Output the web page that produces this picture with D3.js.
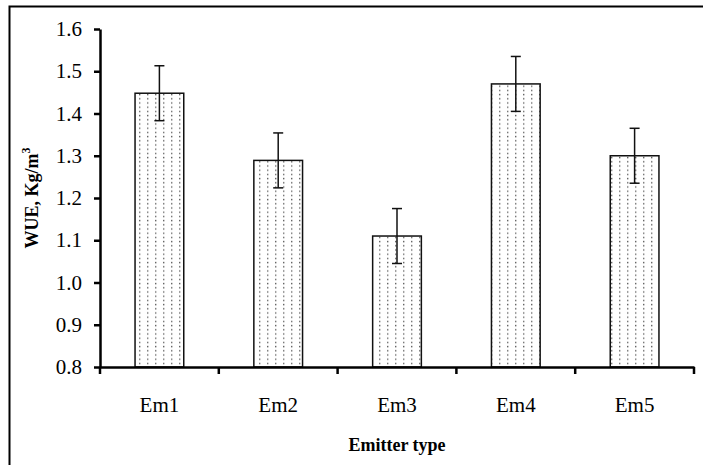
<!DOCTYPE html>
<html>
<head>
<meta charset="utf-8">
<script src="https://cdn.jsdelivr.net/npm/d3@7"></script>
<style>
  body { margin: 0; background: #fff; }
  svg { display: block; font-family: "Liberation Serif", "Times New Roman", serif; }
</style>
</head>
<body>
<script>
// chart data
const emitters = ["Em1", "Em2", "Em3", "Em4", "Em5"]
const wue = [1.448, 1.289, 1.110, 1.470, 1.300]
const wueErr = [0.065, 0.065, 0.065, 0.065, 0.065]
const yTicks = [0.8, 0.9, 1.0, 1.1, 1.2, 1.3, 1.4, 1.5, 1.6]

const width = 703
const height = 465
const margin = ({ top: 29, right: 9, left: 100, bottom: 98 })

const svg = d3.select('body')
    .append('svg')
    .attr('width', width)
    .attr('height', height)

// dotted fill
const pat = svg.append('defs').append('pattern')
    .attr('id', 'dots')
    .attr('patternUnits', 'userSpaceOnUse')
    .attr('width', 8)
    .attr('height', 4.2)
pat.append('rect').attr('width', 8).attr('height', 4.2).attr('fill', '#fff')
pat.append('rect').attr('x', 3).attr('y', 1.5).attr('width', 1.4).attr('height', 1.4).attr('fill', '#666')

// outer frame (runs off right and bottom)
svg.append('rect')
    .attr('x', 9.5).attr('y', 6.5)
    .attr('width', 720).attr('height', 480)
    .attr('fill', 'none')
    .attr('stroke', '#000')
    .attr('stroke-width', 2)

const x = d3.scaleBand()
    .domain(emitters)
    .range([margin.left, width - margin.right])
    .paddingInner(0)
    .paddingOuter(0)

const y = d3.scaleLinear()
    .domain([0.8, 1.6])
    .range([height - margin.bottom, margin.top])

const barW = x.bandwidth() * 0.41

// bars
svg.append('g')
  .selectAll('rect')
  .data(emitters)
  .join('rect')
    .attr('x', d => x(d) + (x.bandwidth() - barW) / 2)
    .attr('y', (d, i) => y(wue[i]))
    .attr('width', barW)
    .attr('height', (d, i) => y(0.8) - y(wue[i]))
    .attr('fill', 'url(#dots)')
    .attr('stroke', '#111')
    .attr('stroke-width', 1.5)

// error bars
const eb = svg.append('g')
    .attr('stroke', '#111')
    .attr('stroke-width', 1.5)
emitters.forEach((d, i) => {
    const cx = x(d) + x.bandwidth() / 2
    const lo = y(wue[i] - wueErr[i]), hi = y(wue[i] + wueErr[i])
    eb.append('line').attr('x1', cx).attr('x2', cx).attr('y1', lo).attr('y2', hi)
    eb.append('line').attr('x1', cx - 5).attr('x2', cx + 5).attr('y1', lo).attr('y2', lo)
    eb.append('line').attr('x1', cx - 5).attr('x2', cx + 5).attr('y1', hi).attr('y2', hi)
})

// y axis
const yAxis = svg.append('g')
    .attr('transform', `translate(${margin.left}, 0)`)
    .call(d3.axisLeft(y).tickValues(yTicks).tickFormat(d3.format('.1f')).tickSize(6).tickSizeOuter(0).tickPadding(12))
yAxis.select('.domain').attr('stroke-width', 2.5)
yAxis.selectAll('.tick line').attr('stroke-width', 2.5)
yAxis.selectAll('text')
    .attr('font-size', 21)
    .attr('font-family', '"Liberation Serif", serif')
    .attr('fill', '#000')

// x axis: ticks at category boundaries
const xAxis = svg.append('g')
    .attr('transform', `translate(0, ${height - margin.bottom})`)
    .call(d3.axisBottom(x).tickSize(0).tickSizeOuter(0).tickPadding(30))
xAxis.select('.domain').attr('stroke-width', 2.5)
xAxis.selectAll('text')
    .attr('font-size', 21)
    .attr('font-family', '"Liberation Serif", serif')
    .attr('fill', '#000')
const bounds = emitters.map(d => x(d)).concat([x(emitters[emitters.length - 1]) + x.bandwidth()])
xAxis.selectAll('.bound')
  .data(bounds)
  .join('line')
    .attr('x1', d => d).attr('x2', d => d)
    .attr('y1', 0).attr('y2', 7)
    .attr('stroke', '#000')
    .attr('stroke-width', 2.5)

// axis titles
svg.append('text')
    .attr('x', (margin.left + width - margin.right) / 2)
    .attr('y', 451)
    .attr('text-anchor', 'middle')
    .attr('font-size', 18)
    .attr('font-weight', 'bold')
    .text('Emitter type')

const yt = svg.append('text')
    .attr('transform', `translate(38, ${(y(0.8) + y(1.6)) / 2}) rotate(-90)`)
    .attr('text-anchor', 'middle')
    .attr('font-size', 18)
    .attr('font-weight', 'bold')
yt.append('tspan').text('WUE, Kg/m')
yt.append('tspan').attr('font-size', 12).attr('dy', -8).text('3')
</script>
</body>
</html>
